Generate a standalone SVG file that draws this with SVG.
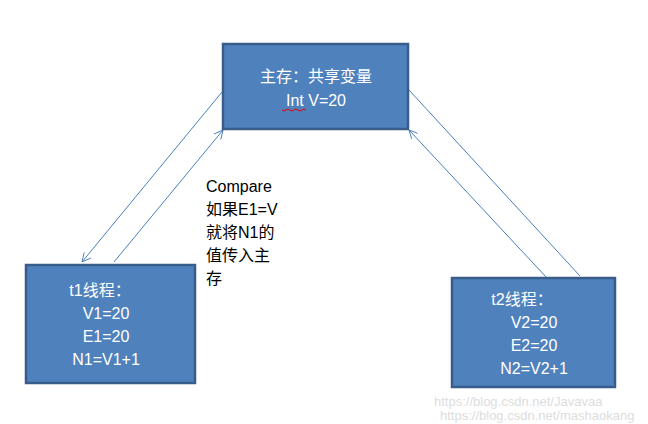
<svg xmlns="http://www.w3.org/2000/svg" width="648" height="424" viewBox="0 0 648 424">
<style>
.box{fill:#4f81bd;stroke:#385d8a;stroke-width:2.5}
.t{font-family:"Liberation Sans","Noto Sans CJK SC",sans-serif;font-size:16px;fill:#fff;text-anchor:middle}
.k{font-family:"Liberation Sans","Noto Sans CJK SC",sans-serif;font-size:16px;fill:#000}
.c{stroke:#4a7ebb;stroke-width:1;fill:none}
.w{font-family:"Liberation Sans",sans-serif;font-size:13px;fill:#ddd}
</style>
<defs><marker id="a" viewBox="0 0 10 10" refX="10" refY="5" markerWidth="9" markerHeight="9" orient="auto"><path d="M0,0L10,5L0,10" fill="none" stroke="#4a7ebb" stroke-width="1"/></marker></defs>
<rect width="648" height="424" fill="#fff"/>
<g id="connectors">
<line class="c" x1="222" y1="92" x2="82" y2="262" marker-end="url(#a)"/>
<line class="c" x1="114" y1="262" x2="223" y2="130" marker-end="url(#a)"/>
<line class="c" x1="409" y1="90" x2="580" y2="276"/>
<line class="c" x1="547" y1="278" x2="409" y2="130" marker-end="url(#a)"/>
</g>
<g id="main"><rect class="box" x="223" y="44" width="185" height="85"/>
<text class="t" x="316" y="82">主存：共享变量</text><text class="t" x="316" y="106">Int V=20</text>
<path d="M282,110 q2,2 4,0 t4,0 t4,0 t4,0 t4,0 t4,0" stroke="#e00" fill="none" stroke-width="1"/></g>
<g id="t1"><rect class="box" x="26" y="265" width="169" height="118"/>
<text class="t" x="100" y="296">t1线程：</text><text class="t" x="106" y="319">V1=20</text><text class="t" x="106" y="342">E1=20</text><text class="t" x="106" y="365">N1=V1+1</text></g>
<g id="t2"><rect class="box" x="452" y="278" width="163" height="109"/>
<text class="t" x="522" y="305">t2线程：</text><text class="t" x="534" y="328">V2=20</text><text class="t" x="534" y="351">E2=20</text><text class="t" x="534" y="374">N2=V2+1</text></g>
<g id="note"><text class="k" x="206" y="192">Compare</text><text class="k" x="206" y="215">如果E1=V</text><text class="k" x="206" y="238">就将N1的</text><text class="k" x="206" y="261">值传入主</text><text class="k" x="206" y="284">存</text></g>
<text class="w" x="434" y="406">https://blog.csdn.net/Javavaa</text>
<text class="w" x="440" y="420">https://blog.csdn.net/mashaokang</text>
</svg>
